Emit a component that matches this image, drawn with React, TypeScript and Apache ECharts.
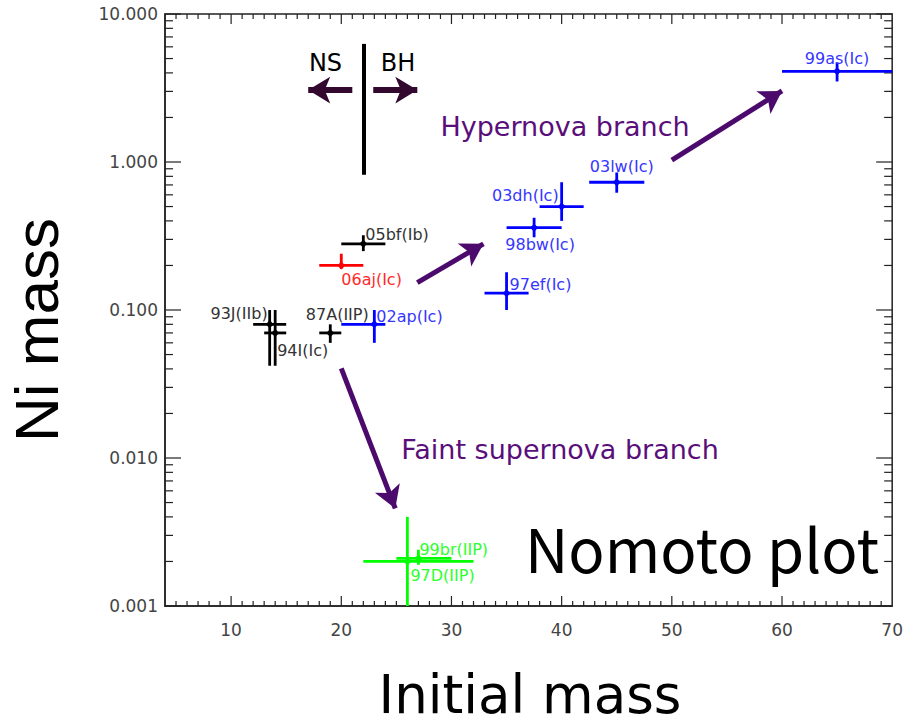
import React, { useEffect, useRef } from "react";
import * as echarts from "echarts";

// Axis ranges
const X_MIN = 4;
const X_MAX = 70;
const Y_MIN = 0.001;
const Y_MAX = 10;

const xTickLabels = [10, 20, 30, 40, 50, 60, 70];

// Supernovae: initial mass (Msun) and 56Ni mass (Msun) with ranges
const snNames = [
  "93J(IIb)", "94I(Ic)", "87A(IIP)", "05bf(Ib)", "06aj(Ic)", "02ap(Ic)",
  "97ef(Ic)", "98bw(Ic)", "03dh(Ic)", "03lw(Ic)", "99as(Ic)", "97D(IIP)", "99br(IIP)",
];
const initialMass = [13.5, 14, 19, 22, 20, 23, 35, 37.5, 40, 45, 65, 26, 27];
const massLow = [12, 13, 18, 20, 18, 20, 33, 35, 38, 42.5, 60, 22, 25];
const massHigh = [15, 15, 20, 24, 22, 24, 37, 40, 42, 47.5, 70, 32, 30];
const niMass = [0.08, 0.07, 0.07, 0.28, 0.2, 0.08, 0.13, 0.36, 0.5, 0.73, 4.1, 0.002, 0.0021];
const niLow = [0.042, 0.042, 0.06, 0.25, 0.19, 0.06, 0.1, 0.31, 0.4, 0.62, 3.5, 0.0005, 0.0019];
const niHigh = [0.1, 0.1, 0.08, 0.32, 0.24, 0.1, 0.18, 0.42, 0.73, 0.85, 4.7, 0.004, 0.0024];
const snClass = ["normal", "normal", "normal", "normal", "red", "hyper", "hyper", "hyper", "hyper", "hyper", "hyper", "faint", "faint"];

// Annotation arrows (data coordinates: [mass, Ni]), tail then tip
const hypernovaArrows = [
  [[26.9, 0.153], [32.9, 0.28]],
  [[50.0, 1.03], [60.0, 3.02]],
];
const faintArrow = [[20.0, 0.0403], [24.9, 0.00456]];
const nsArrow = [[21.0, 3.06], [17.0, 3.06]];
const bhArrow = [[22.9, 3.06], [26.9, 3.06]];
const nsBhDivide = [[22, 0.82], [22, 6.28]];

// Styling
const barColors: Record<string, string> = {
  normal: "#000000",
  red: "#ff0000",
  hyper: "#0000ff",
  faint: "#00ff00",
};
const labelColors: Record<string, string> = {
  normal: "#333333",
  red: "#ff2a2a",
  hyper: "#3636ff",
  faint: "#2cff2c",
};
const labelPlacement = [
  { align: "right", dx: -2, dy: -11 },
  { align: "left", dx: 2, dy: 18 },
  { align: "center", dx: 7, dy: -18 },
  { align: "left", dx: 2, dy: -9 },
  { align: "left", dx: 0, dy: 14 },
  { align: "left", dx: 2, dy: -8 },
  { align: "left", dx: 3, dy: -9 },
  { align: "center", dx: 6, dy: 17 },
  { align: "right", dx: -3, dy: -11 },
  { align: "center", dx: 5, dy: -16 },
  { align: "center", dx: 0, dy: -13 },
  { align: "left", dx: 3, dy: 14 },
  { align: "left", dx: 1, dy: -9 },
];

const PURPLE = "#4c0a6c";
const DARK_PURPLE = "#33082f";
const TEXT_PURPLE = "#5a0e7a";
const SMALL_FONT = '16px "DejaVu Sans"';

// Tick marks: [x, y, major, axis] where axis 0 = horizontal axes, 1 = vertical axes
function buildTicks() {
  const ticks: number[][] = [];
  for (let v = 5; v <= 69; v++) ticks.push([v, Y_MIN, v % 10 === 0 ? 1 : 0, 0]);
  for (let e = -3; e <= 0; e++) {
    const base = Math.pow(10, e);
    ticks.push([X_MIN, base, 1, 1]);
    for (let m = 2; m <= 9; m++) ticks.push([X_MIN, m * base, 0, 1]);
  }
  ticks.push([X_MIN, Y_MAX, 1, 1]);
  return ticks;
}

function arrowLine(seg: number[][]) {
  return [{ coord: seg[0] }, { coord: seg[1] }];
}

export default function App() {
  const ref = useRef<HTMLDivElement>(null);

  useEffect(() => {
    if (!ref.current) return;
    const chart = echarts.init(ref.current, undefined, { renderer: "svg" });

    const errorData = snNames.map((_, i) => [
      initialMass[i], niMass[i], massLow[i], massHigh[i], niLow[i], niHigh[i],
    ]);

    const option: any = {
      animation: false,
      backgroundColor: "#ffffff",
      grid: {
        left: 165,
        right: 12,
        top: 14,
        bottom: 120,
        show: true,
        borderColor: "#222",
        borderWidth: 1.5,
        containLabel: false,
      },
      xAxis: {
        type: "value",
        min: X_MIN,
        max: X_MAX,
        splitLine: { show: false },
        axisTick: { show: false },
        axisLine: { show: true, lineStyle: { color: "#222", width: 1.5 } },
        axisLabel: {
          customValues: xTickLabels,
          color: "#444",
          fontSize: 17,
          fontFamily: "DejaVu Sans",
          margin: 15,
        },
      },
      yAxis: {
        type: "log",
        logBase: 10,
        min: Y_MIN,
        max: Y_MAX,
        splitLine: { show: false },
        axisTick: { show: false },
        axisLine: { show: true, lineStyle: { color: "#222", width: 1.5 } },
        axisLabel: {
          color: "#444",
          fontSize: 17,
          fontFamily: "DejaVu Sans",
          margin: 7,
          formatter: (v: number) => v.toFixed(3),
        },
      },
      series: [
        {
          type: "custom",
          silent: true,
          clip: false,
          data: buildTicks(),
          renderItem: (params: any, api: any) => {
            const cs = params.coordSys;
            const major = api.value(2) === 1;
            const st = { stroke: "#222", lineWidth: 1.2 };
            if (api.value(3) === 0) {
              const px = api.coord([api.value(0), Y_MIN])[0];
              const len = major ? 10 : 5;
              const bottom = cs.y + cs.height;
              return {
                type: "group",
                children: [
                  { type: "line", shape: { x1: px, y1: bottom, x2: px, y2: bottom - len }, style: st },
                  { type: "line", shape: { x1: px, y1: cs.y, x2: px, y2: cs.y + len }, style: st },
                ],
              };
            }
            const py = api.coord([X_MIN, api.value(1)])[1];
            const len = major ? 16 : 8;
            const right = cs.x + cs.width;
            return {
              type: "group",
              children: [
                { type: "line", shape: { x1: cs.x, y1: py, x2: cs.x + len, y2: py }, style: st },
                { type: "line", shape: { x1: right, y1: py, x2: right - len, y2: py }, style: st },
              ],
            };
          },
        },
        {
          type: "line",
          data: [],
          silent: true,
          markLine: {
            silent: true,
            symbol: ["none", "arrow"],
            symbolSize: [20, 22],
            label: { show: false },
            emphasis: { disabled: true },
            lineStyle: { color: PURPLE, width: 5, type: "solid" },
            data: [...hypernovaArrows.map(arrowLine), arrowLine(faintArrow)],
          },
        },
        {
          type: "line",
          data: [],
          silent: true,
          markLine: {
            silent: true,
            symbol: ["none", "arrow"],
            symbolSize: [20, 22],
            label: { show: false },
            emphasis: { disabled: true },
            lineStyle: { color: DARK_PURPLE, width: 6, type: "solid" },
            data: [arrowLine(nsArrow), arrowLine(bhArrow)],
          },
        },
        {
          type: "line",
          data: [],
          silent: true,
          markLine: {
            silent: true,
            symbol: ["none", "none"],
            label: { show: false },
            emphasis: { disabled: true },
            lineStyle: { color: "#000", width: 4, type: "solid" },
            data: [arrowLine(nsBhDivide)],
          },
        },
        {
          type: "custom",
          silent: true,
          clip: true,
          encode: { x: [0, 2, 3], y: [1, 4, 5] },
          data: errorData,
          renderItem: (params: any, api: any) => {
            const i = params.dataIndex;
            const x = api.value(0);
            const y = api.value(1);
            const c = api.coord([x, y]);
            const l = api.coord([api.value(2), y]);
            const r = api.coord([api.value(3), y]);
            const lo = api.coord([x, Math.max(api.value(4), Y_MIN * 0.9)]);
            const hi = api.coord([x, api.value(5)]);
            const cls = snClass[i];
            const color = barColors[cls];
            const lp = labelPlacement[i];
            const d = 4;
            return {
              type: "group",
              children: [
                { type: "line", shape: { x1: l[0], y1: c[1], x2: r[0], y2: c[1] }, style: { stroke: color, lineWidth: 2.8 } },
                { type: "line", shape: { x1: c[0], y1: hi[1], x2: c[0], y2: lo[1] }, style: { stroke: color, lineWidth: 2.8 } },
                {
                  type: "polygon",
                  shape: { points: [[c[0], c[1] - d], [c[0] + d, c[1]], [c[0], c[1] + d], [c[0] - d, c[1]]] },
                  style: { fill: color },
                },
                {
                  type: "text",
                  x: c[0] + lp.dx,
                  y: c[1] + lp.dy,
                  style: {
                    text: snNames[i],
                    fill: labelColors[cls],
                    font: SMALL_FONT,
                    align: lp.align,
                    verticalAlign: "middle",
                  },
                },
              ],
            };
          },
        },
      ],
      graphic: [
        { type: "text", x: 325.5, y: 63, style: { text: "NS", font: '24px "DejaVu Sans"', fill: "#000", align: "center", verticalAlign: "middle" } },
        { type: "text", x: 398, y: 63, style: { text: "BH", font: '24px "DejaVu Sans"', fill: "#000", align: "center", verticalAlign: "middle" } },
        { type: "text", x: 565, y: 126, style: { text: "Hypernova branch", font: '27px "DejaVu Sans"', fill: TEXT_PURPLE, align: "center", verticalAlign: "middle" } },
        { type: "text", x: 560, y: 449, style: { text: "Faint supernova branch", font: '27px "DejaVu Sans"', fill: TEXT_PURPLE, align: "center", verticalAlign: "middle" } },
        { type: "text", x: 702, y: 546, style: { text: "Nomoto plot", font: '60px "Noto Sans CJK JP"', fill: "#000", align: "center", verticalAlign: "middle" } },
        { type: "text", x: 530, y: 694, style: { text: "Initial mass", font: '53px "DejaVu Sans"', fill: "#000", align: "center", verticalAlign: "middle" } },
        { type: "text", x: 36, y: 330, rotation: Math.PI / 2, style: { text: "Ni mass", font: '62px "Liberation Sans"', fill: "#000", align: "center", verticalAlign: "middle" } },
      ],
    };

    chart.setOption(option);
    return () => chart.dispose();
  }, []);

  return (
    <div
      ref={ref}
      style={{ position: "fixed", left: 0, top: 0, width: 906, height: 726, background: "#fff" }}
    />
  );
}
